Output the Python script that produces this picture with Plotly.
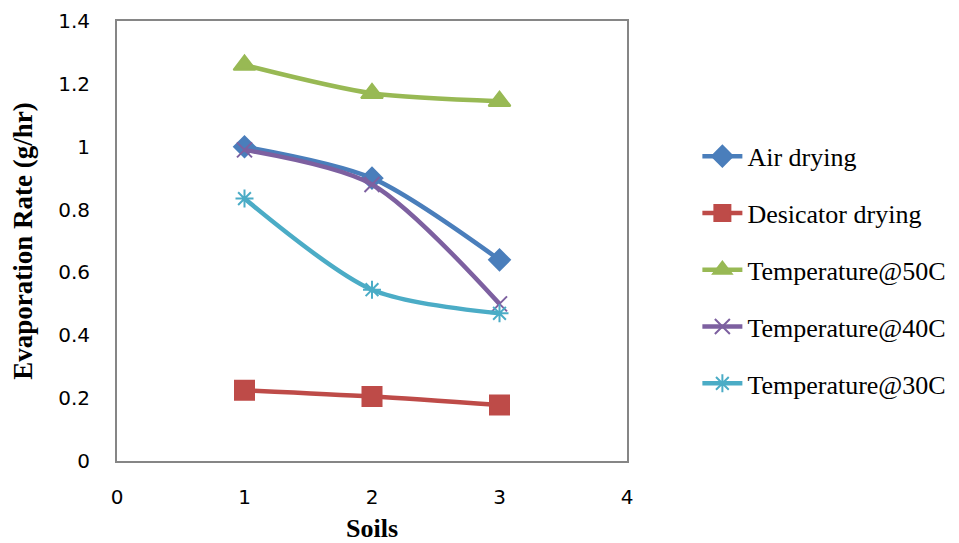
import plotly.graph_objects as go

soils = [1, 2, 3]
air_drying = [1.00, 0.90, 0.64]
desicator_drying = [0.225, 0.205, 0.178]
temp_50c = [1.26, 1.17, 1.145]
temp_40c = [0.99, 0.88, 0.50]
temp_30c = [0.835, 0.545, 0.47]

series = [
    ("Air drying", air_drying, "#4A7EBB", "diamond", 16),
    ("Desicator drying", desicator_drying, "#BE4B48", "square", 19),
    ("Temperature@50C", temp_50c, "#98B954", "triangle-up", 19),
    ("Temperature@40C", temp_40c, "#7D60A0", "x-thin-open", 15),
    ("Temperature@30C", temp_30c, "#4BACC6", "asterisk-open", 15),
]

fig = go.Figure()
for i, (name, vals, color, sym, size) in enumerate(series):
    fig.add_trace(go.Scatter(
        x=soils, y=vals, name=name, mode="lines+markers",
        line=dict(color=color, width=4.5, shape="spline", smoothing=0.8),
        marker=dict(symbol=sym, size=size, color=color,
                    line=dict(color=color, width=2)),
        legendgroup=f"g{i}",
    ))

axis_common = dict(
    showgrid=False, zeroline=False, showline=True, mirror=True,
    linecolor="#868686", linewidth=2, ticks="", automargin=False,
    tickfont=dict(family="DejaVu Sans", size=20, color="#000"),
)

fig.update_layout(
    width=1000, height=535,
    margin=dict(l=109, r=381, t=13, b=82),
    plot_bgcolor="white", paper_bgcolor="white",
    xaxis=dict(range=[0, 4], tickvals=[0, 1, 2, 3, 4], ticklabelstandoff=17,
               title=dict(text="<b>Soils</b>", standoff=15,
                          font=dict(family="Liberation Serif", size=26, color="#000")),
               **axis_common),
    yaxis=dict(range=[0, 1.4], tickvals=[0, 0.2, 0.4, 0.6, 0.8, 1, 1.2, 1.4],
               ticktext=["0", "0.2", "0.4", "0.6", "0.8", "1", "1.2", "1.4"],
               ticklabelstandoff=21,
               title=dict(text="<b>Evaporation Rate (g/hr)</b>", standoff=22,
                          font=dict(family="Liberation Serif", size=27, color="#000")),
               **axis_common),
    legend=dict(x=1.138, y=0.746, xanchor="left", yanchor="top",
                font=dict(family="Liberation Serif", size=26, color="#000"),
                traceorder="grouped", tracegroupgap=20, itemwidth=40,
                bgcolor="rgba(0,0,0,0)"),
    showlegend=True,
)

fig.write_html("out.html")
